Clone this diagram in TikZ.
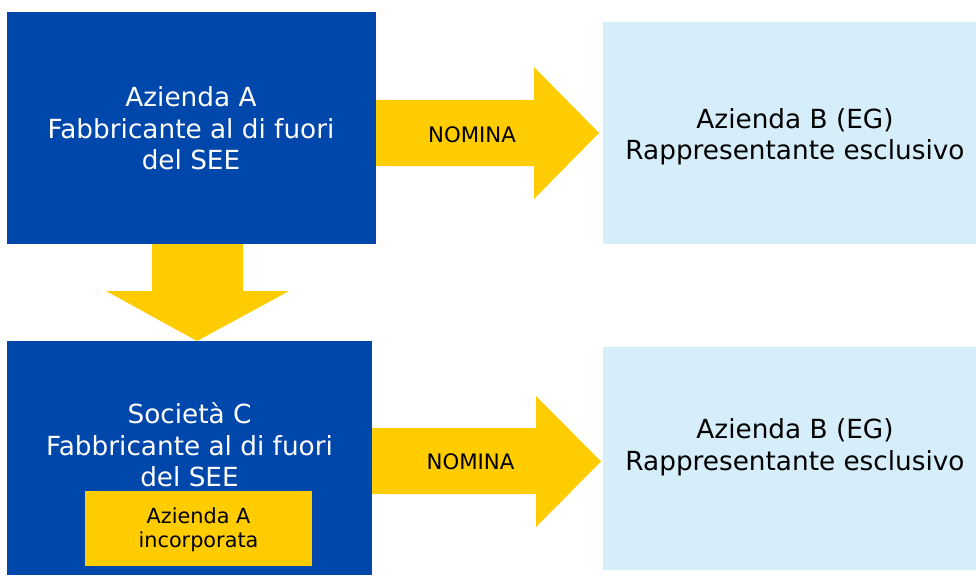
\documentclass[tikz,border=0pt]{standalone}
\usepackage{fontspec}
\setmainfont{DejaVu Sans}
\definecolor{eublue}{RGB}{0,71,171}
\definecolor{euyellow}{RGB}{255,204,0}
\definecolor{lightb}{RGB}{214,238,250}
\begin{document}
\begin{tikzpicture}[x=1pt,y=-1pt,
  bluebox/.style={fill=eublue,draw=none},
  lbbox/.style={fill=lightb,draw=none},
  ybox/.style={fill=euyellow,draw=none},
  bigtxt/.style={inner sep=0pt,align=center,font=\fontsize{26.3}{31.5}\selectfont},
  smalltxt/.style={inner sep=0pt,align=center,font=\fontsize{20.8}{24}\selectfont},
  nomtxt/.style={inner sep=0pt,anchor=base,font=\fontsize{21.3}{25}\selectfont},
  blockarrow/.style={fill=euyellow,draw=none}]
\useasboundingbox (0,0) rectangle (976,575);
% boxes
\fill[bluebox] (7,12) rectangle (376,244);
\fill[bluebox] (7,341) rectangle (372,575);
\fill[lbbox] (603,22) rectangle (976,244);
\fill[lbbox] (603,347) rectangle (976,570);
\fill[ybox] (85,491) rectangle (312,566);
% arrows
\fill[blockarrow] (376,100) -- (534,100) -- (534,67) -- (599,133) -- (534,199) -- (534,166) -- (376,166) -- cycle;
\fill[blockarrow] (372,428) -- (536,428) -- (536,396) -- (601,461.5) -- (536,527) -- (536,494) -- (372,494) -- cycle;
\fill[blockarrow] (152,244) -- (243,244) -- (243,291) -- (289,291) -- (197,341) -- (106,291) -- (152,291) -- cycle;
% texts
\node[bigtxt,text=white] (ta) at (191,128.5) {Azienda A\\Fabbricante al di fuori\\del SEE};
\node[bigtxt,text=white] (tc) at (189.5,445) {Società C\\Fabbricante al di fuori\\del SEE};
\node[bigtxt,text=black] (tb1) at (795,136.5) {Azienda B (EG)\\Rappresentante esclusivo};
\node[bigtxt,text=black] (tb2) at (795,447.3) {Azienda B (EG)\\Rappresentante esclusivo};
\node[smalltxt,text=black] (ts) at (198.5,530) {Azienda A\\incorporata};
\node[nomtxt] (n1) at (472,142) {NOMINA};
\node[nomtxt] (n2) at (470.5,469) {NOMINA};
\end{tikzpicture}
\end{document}
